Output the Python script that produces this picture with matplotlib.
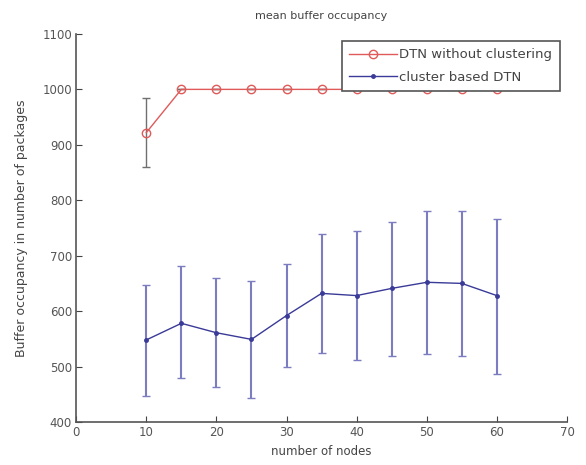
import numpy as np
import matplotlib.pyplot as plt

nodes = [10, 15, 20, 25, 30, 35, 40, 45, 50, 55, 60]

# DTN without clustering
red_mean = [922, 1000, 1000, 1000, 1000, 1000, 1000, 1000, 1000, 1000, 1000]
red_err = [62, 0, 0, 0, 0, 0, 0, 0, 0, 0, 0]

# cluster based DTN
blue_mean = [548, 578, 561, 549, 592, 632, 628, 641, 652, 650, 628]
blue_lo = [447, 480, 463, 443, 499, 524, 511, 519, 523, 519, 487]
blue_hi = [647, 681, 660, 655, 685, 740, 745, 760, 781, 781, 766]

xticks = np.arange(0, 80, 10)
yticks = np.arange(400, 1200, 100)

plt.rcParams['font.family'] = ['DejaVu Sans']
plt.rcParams['font.size'] = 8.5

fig = plt.figure(figsize=(5.86, 4.65), dpi=100)
ax = fig.add_axes([0.13, 0.0925, 0.8375, 0.8345])

red = '#e05a5a'
blue = '#3a3a98'

r = ax.errorbar(nodes, red_mean, yerr=red_err, color=red, ecolor='#707070',
                elinewidth=1, capsize=3, marker='o', markersize=6,
                markerfacecolor='none', markeredgecolor=red, linewidth=1)

b_err = [np.array(blue_mean) - np.array(blue_lo), np.array(blue_hi) - np.array(blue_mean)]
b = ax.errorbar(nodes, blue_mean, yerr=b_err, color=blue, ecolor='#7c7cc0',
                elinewidth=1.5, capsize=3, marker='.', markersize=5,
                linewidth=1)

ax.set_xlim(0, 70)
ax.set_ylim(400, 1100)
ax.set_xticks(xticks)
ax.set_yticks(yticks)
ax.tick_params(direction='in', length=4, colors='#444444', labelcolor='#555555', pad=3)
ax.spines['top'].set_visible(False)
ax.spines['right'].set_visible(False)
for s in ['left', 'bottom']:
    ax.spines[s].set_color('#555555')
    ax.spines[s].set_linewidth(1.2)

ax.set_xlabel('number of nodes', color='#444444', labelpad=4)
ax.set_ylabel('Buffer occupancy in number of packages', color='#444444',
              labelpad=10, fontsize=9)
ax.set_title('mean buffer occupancy', color='#444444', pad=11, fontsize=8)

leg = ax.legend([r[0], b[0]], ['DTN without clustering', 'cluster based DTN'],
                loc='upper right', fancybox=False, edgecolor='#555555',
                borderaxespad=0.55, borderpad=0.55, labelspacing=0.7,
                handlelength=3.6, handletextpad=0.2, framealpha=1, fontsize=9.5)
leg.get_frame().set_linewidth(1.2)
for t in leg.get_texts():
    t.set_color('#444444')

plt.savefig('out.png', dpi=100)
